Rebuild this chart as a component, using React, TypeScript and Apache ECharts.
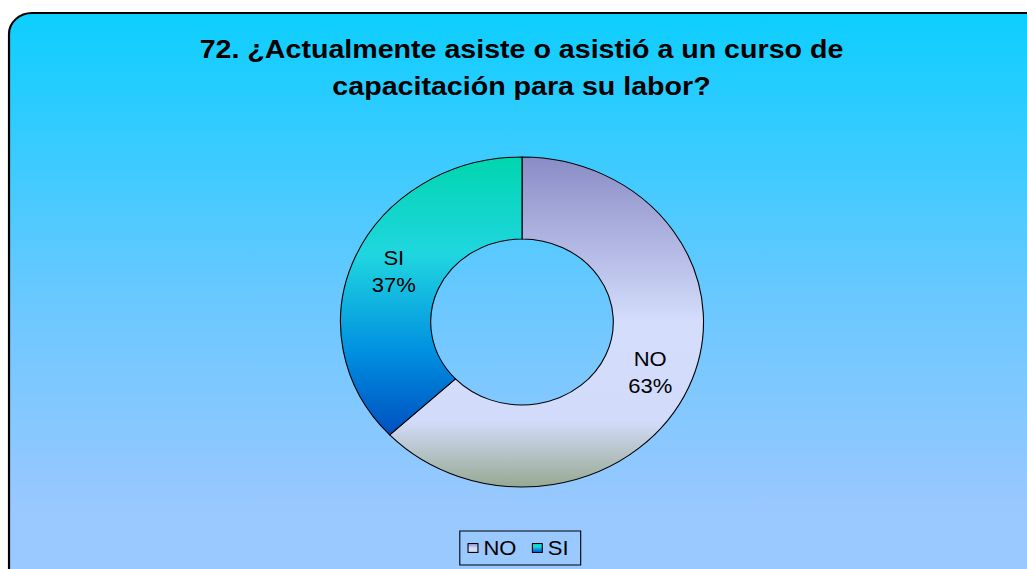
import React, { useEffect, useRef } from "react";
import * as echarts from "echarts";

const categories = ["NO", "SI"];
const values = [63, 37];
const titleText = "72. ¿Actualmente asiste o asistió a un curso de\ncapacitación para su labor?";

const SX = 1.1;
const W = 1027 / SX;

const sliceColors = [
  new echarts.graphic.LinearGradient(0, 0, 0, 1, [
    { offset: 0, color: "#8a8cc6" },
    { offset: 0.5, color: "#d4ddfc" },
    { offset: 0.8, color: "#d2dcfa" },
    { offset: 1, color: "#97a993" },
  ]),
  new echarts.graphic.LinearGradient(0, 0, 0, 1, [
    { offset: 0, color: "#00d6ae" },
    { offset: 0.35, color: "#20d6e0" },
    { offset: 0.7, color: "#0090e0" },
    { offset: 1, color: "#0050c0" },
  ]),
];

export default function App() {
  const ref = useRef<HTMLDivElement>(null);
  useEffect(() => {
    if (!ref.current) return;
    const chart = echarts.init(ref.current, null, { renderer: "svg" });
    chart.setOption({
      animation: false,
      backgroundColor: "#ffffff",
      graphic: [
        {
          type: "rect",
          z: -10,
          silent: true,
          shape: { x: 8.2, y: 13, width: 1000, height: 600, r: 21 },
          style: {
            fill: new echarts.graphic.LinearGradient(0, 0, 0, 1, [
              { offset: 0, color: "#0ccfff" },
              { offset: 0.15, color: "#2accff" },
              { offset: 0.49, color: "#6cc8ff" },
              { offset: 0.82, color: "#98c8ff" },
              { offset: 1, color: "#9ccaff" },
            ]),
            stroke: "#000",
            lineWidth: 2,
          },
        },
      ],
      title: {
        text: titleText,
        left: 516 / SX,
        top: 25,
        textAlign: "center",
        textStyle: {
          fontFamily: "Liberation Sans",
          fontWeight: "bold",
          fontSize: 26,
          lineHeight: 37,
          color: "#000",
        },
      },
      legend: {
        data: categories,
        bottom: 4,
        left: 418,
        icon: "rect",
        itemWidth: 9,
        itemHeight: 9,
        itemGap: 14,
        padding: [7, 11, 7, 7],
        borderColor: "#000",
        borderWidth: 1,
        itemStyle: { borderColor: "#000", borderWidth: 1 },
        textStyle: { fontFamily: "Liberation Sans", fontSize: 20, color: "#000" },
      },
      series: [
        {
          type: "pie",
          center: [522 / SX, 322],
          radius: [83, 165],
          startAngle: 90,
          clockwise: true,
          data: categories.map((c, i) => ({
            name: c,
            value: values[i],
            itemStyle: { color: sliceColors[i] },
          })),
          itemStyle: { borderColor: "#000", borderWidth: 1 },
          label: {
            show: true,
            position: "inside",
            formatter: "{b}\n{d}%",
            fontFamily: "Liberation Sans",
            fontSize: 20,
            lineHeight: 27,
            color: "#000",
          },
          labelLine: { show: false },
        },
      ],
    });
    return () => chart.dispose();
  }, []);
  return (
    <div
      ref={ref}
      style={{
        position: "fixed",
        left: 0,
        top: 0,
        width: W,
        height: 569,
        transform: `scaleX(${SX})`,
        transformOrigin: "0 0",
      }}
    />
  );
}
